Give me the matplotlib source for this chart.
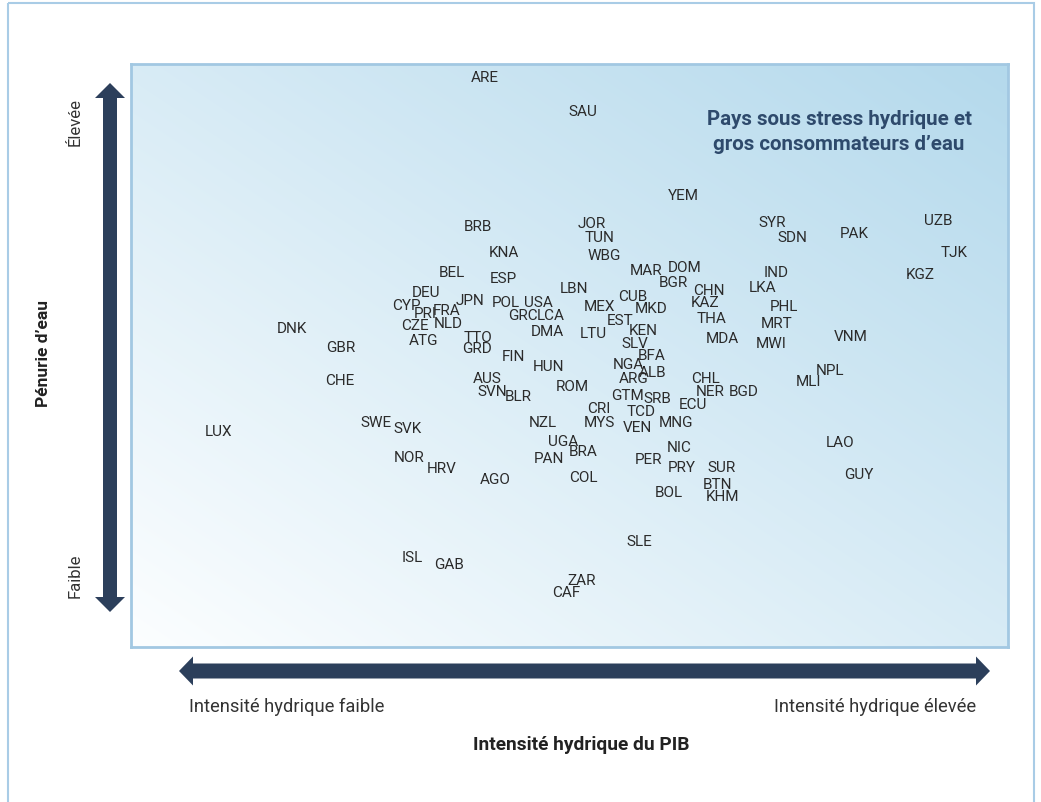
import matplotlib
matplotlib.use("Agg")
import matplotlib.pyplot as plt
import numpy as np
from matplotlib.patches import Polygon, Rectangle

# ---- data (index units: x = intensité hydrique du PIB, y = pénurie d'eau) ----
countries = ["ARE", "SAU", "YEM", "BRB", "JOR", "TUN", "SYR", "SDN", "PAK", "UZB",
             "TJK", "KNA", "WBG", "MAR", "DOM", "IND", "KGZ", "BEL", "ESP", "BGR",
             "LBN", "CHN", "LKA", "DEU", "CUB", "JPN", "POL", "USA", "KAZ", "CYP",
             "MEX", "PHL", "MKD", "FRA", "PRI", "GRC", "LCA", "THA", "EST", "MRT",
             "NLD", "CZE", "DNK", "KEN", "DMA", "LTU", "VNM", "TTO", "MDA", "ATG",
             "SLV", "MWI", "GBR", "GRD", "BFA", "FIN", "NGA", "HUN", "NPL", "ALB",
             "AUS", "ARG", "CHL", "CHE", "MLI", "ROM", "SVN", "NER", "BGD", "GTM",
             "BLR", "SRB", "ECU", "CRI", "TCD", "NZL", "SWE", "MYS", "MNG", "VEN",
             "SVK", "LUX", "UGA", "LAO", "NIC", "BRA", "NOR", "PAN", "PER", "HRV",
             "PRY", "SUR", "GUY", "COL", "AGO", "BTN", "BOL", "KHM", "SLE", "ISL",
             "GAB", "ZAR", "CAF"]
intensity = [354, 452, 552, 347, 461, 469, 641, 661, 723, 807,
             823, 373, 473, 515, 554, 645, 789, 321, 372, 542,
             443, 578, 632, 295, 502, 339, 375, 407, 574, 275,
             468, 653, 520, 316, 294, 392, 420, 581, 489, 646,
             317, 284, 161, 512, 416, 462, 720, 347, 591, 293,
             504, 640, 210, 346, 521, 382, 497, 417, 699, 522,
             356, 503, 574, 209, 677, 441, 361, 579, 613, 496,
             387, 526, 562, 468, 510, 412, 245, 468, 545, 506,
             277, 87, 432, 709, 548, 452, 278, 418, 517, 311,
             551, 591, 728, 452, 364, 586, 538, 591, 508, 281,
             318, 451, 435]
scarcity = [570, 536, 452, 421, 424, 410, 425, 410, 414, 427,
            395, 395, 392, 377, 380, 375, 373, 375, 369, 365,
            359, 357, 360, 355, 351, 347, 345, 345, 345, 342,
            341, 341, 339, 337, 334, 332, 332, 329, 327, 324,
            324, 322, 319, 317, 316, 314, 311, 310, 309, 307,
            304, 304, 300, 299, 292, 291, 283, 281, 277, 275,
            269, 269, 269, 267, 266, 261, 256, 256, 256, 252,
            251, 249, 243, 239, 236, 225, 225, 225, 225, 220,
            219, 216, 206, 205, 200, 196, 190, 189, 188, 179,
            180, 180, 173, 170, 168, 163, 155, 151, 106, 90,
            83, 67, 55]

x_range = (0, 877)
y_range = (0, 583)

title_text = "Pays sous stress hydrique et\ngros consommateurs d\u2019eau"
x_title = "Intensit\u00e9 hydrique du PIB"
x_low, x_high = "Intensit\u00e9 hydrique faible", "Intensit\u00e9 hydrique \u00e9lev\u00e9e"
y_title = "P\u00e9nurie d\u2019eau"
y_low, y_high = "Faible", "\u00c9lev\u00e9e"

# ---- figure ----
W, H = 1041, 803
fig = plt.figure(figsize=(W / 100, H / 100), dpi=100)
fig.patch.set_facecolor("white")

ax = fig.add_axes([131 / W, 1 - 648 / H, 877 / W, 583 / H])
ax.set_xlim(*x_range)
ax.set_ylim(*y_range)

# diagonal gradient background
n = 300
u = np.linspace(0, 1, n)
U, V = np.meshgrid(u, u)
t = (U + V) / 2
c0 = np.array([252, 254, 255]) / 255
c1 = np.array([180, 217, 236]) / 255
img = c0[None, None, :] + t[:, :, None] * (c1 - c0)[None, None, :]
ax.imshow(img, extent=[x_range[0], x_range[1], y_range[0], y_range[1]],
          origin="lower", aspect="auto", zorder=0, interpolation="bilinear")
ax.set_xticks([])
ax.set_yticks([])
for s in ax.spines.values():
    s.set_color("#a2c8e2")
    s.set_linewidth(2)

label_font = ["Roboto", "DejaVu Sans"]
for name, xv, yv in zip(countries, intensity, scarcity):
    ax.text(xv, yv, name, ha="center", va="center", fontsize=11,
            color="#2b2b2b", family=label_font, zorder=3)

ax.text(708, 516, title_text, ha="center", va="center", fontsize=14.8,
        fontweight="bold", color="#2e4a6c", family=label_font,
        linespacing=1.35, zorder=3)

# ---- overlay for decorations (pixel coordinates) ----
ov = fig.add_axes([0, 0, 1, 1], zorder=-1)
ov.set_xlim(0, W)
ov.set_ylim(H, 0)
ov.axis("off")
ov.patch.set_alpha(0)

ov.add_patch(Rectangle((8, 4), 1026, 820, fill=False, edgecolor="#a9cce6",
                       linewidth=1.5))

arrow_col = "#2c3f5b"

def double_arrow_h(x0, x1, yc, sw, hw, hl):
    pts = [(x0, yc), (x0 + hl, yc - hw / 2), (x0 + hl, yc - sw / 2),
           (x1 - hl, yc - sw / 2), (x1 - hl, yc - hw / 2), (x1, yc),
           (x1 - hl, yc + hw / 2), (x1 - hl, yc + sw / 2),
           (x0 + hl, yc + sw / 2), (x0 + hl, yc + hw / 2)]
    return Polygon(pts, closed=True, facecolor=arrow_col, edgecolor="none")

def double_arrow_v(y0, y1, xc, sw, hw, hl):
    pts = [(xc, y0), (xc + hw / 2, y0 + hl), (xc + sw / 2, y0 + hl),
           (xc + sw / 2, y1 - hl), (xc + hw / 2, y1 - hl), (xc, y1),
           (xc - hw / 2, y1 - hl), (xc - sw / 2, y1 - hl),
           (xc - sw / 2, y0 + hl), (xc - hw / 2, y0 + hl)]
    return Polygon(pts, closed=True, facecolor=arrow_col, edgecolor="none")

ov.add_patch(double_arrow_v(84, 613, 110, 14, 30, 15))
ov.add_patch(double_arrow_h(179, 990, 672, 15, 29, 14))

side_font = ["Roboto", "DejaVu Sans"]
ov.text(189, 707, x_low, ha="left", va="center", fontsize=13.2, color="#333333",
        family=side_font)
ov.text(976, 707, x_high, ha="right", va="center", fontsize=13.2, color="#333333",
        family=side_font)
ov.text(581, 745, x_title, ha="center", va="center", fontsize=13.8,
        fontweight="bold", color="#222222", family=side_font)
ov.text(75, 122, y_high, ha="center", va="center", fontsize=12, rotation=90,
        color="#333333", family=side_font)
ov.text(75, 576, y_low, ha="center", va="center", fontsize=12, rotation=90,
        color="#333333", family=side_font)
ov.text(44, 354, y_title, ha="center", va="center", fontsize=12.5, rotation=90,
        fontweight="bold", color="#222222", family=side_font)

fig.savefig("out.png", dpi=100)
